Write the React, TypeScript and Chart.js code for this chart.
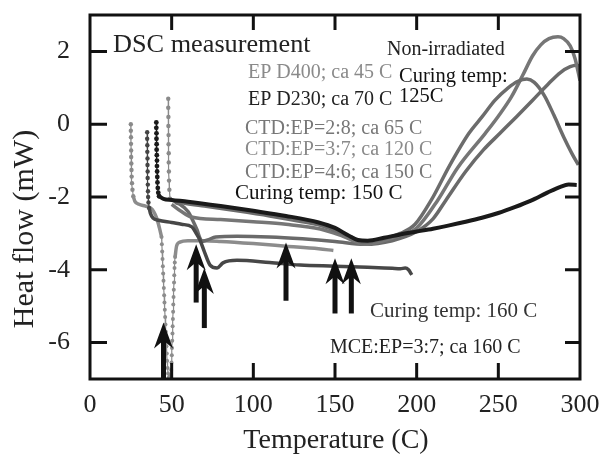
import React, { useEffect, useRef } from 'react';
import { Chart, registerables } from 'chart.js';

Chart.register(...registerables);

// ---------- axis ticks ----------
const xTicks = [0, 50, 100, 150, 200, 250, 300];
const yTicks = [-6, -4, -2, 0, 2];

// ---------- black curve (EP D230 / curing 150 C) ----------
const cDotT = [40.6, 40.6, 40.7, 40.7, 40.8, 40.8, 40.9, 41.0, 41.0, 41.1, 41.2, 41.3, 41.5, 41.8, 42.3];
const cDotQ = [0.05, -0.1, -0.25, -0.4, -0.55, -0.7, -0.85, -1.0, -1.15, -1.3, -1.45, -1.6, -1.75, -1.88, -1.98];
const cLineT = [42.3, 45, 50, 60, 80, 100, 120, 140, 150, 158, 164, 170, 180, 190, 200, 210, 220, 230, 240, 250, 260, 270, 280, 288, 293, 298];
const cLineQ = [-1.98, -2.05, -2.08, -2.13, -2.25, -2.38, -2.52, -2.7, -2.85, -3.05, -3.18, -3.2, -3.12, -3.03, -2.95, -2.87, -2.78, -2.68, -2.57, -2.44, -2.28, -2.1, -1.88, -1.72, -1.66, -1.67];

// ---------- dark grey curve (ends with hook near 197 C) ----------
const bDotT = [35.0, 35.0, 35.1, 35.1, 35.2, 35.2, 35.3, 35.3, 35.4, 35.5, 35.6, 35.8, 36.2];
const bDotQ = [-0.22, -0.4, -0.58, -0.76, -0.94, -1.12, -1.3, -1.48, -1.66, -1.84, -2.0, -2.15, -2.3];
const bLineT = [36.2, 37, 38.6, 42, 50, 56, 62.4, 65, 67.3, 70, 73.5, 77.8, 81.4, 90, 110, 128.6, 150, 170, 185, 190, 193, 195, 197];
const bLineQ = [-2.3, -2.45, -2.58, -2.64, -2.7, -2.75, -2.82, -3.0, -3.18, -3.5, -3.87, -3.95, -3.81, -3.74, -3.8, -3.87, -3.9, -3.93, -3.96, -3.97, -3.95, -4.0, -4.14];

// ---------- light grey curve with deep V (EP D400) ----------
const aDotT = [25.0, 25.0, 25.1, 25.1, 25.2, 25.2, 25.3, 25.4, 25.5, 25.7, 26.0, 26.5];
const aDotQ = [0.0, -0.18, -0.36, -0.54, -0.72, -0.9, -1.08, -1.26, -1.44, -1.62, -1.8, -1.98];
const aLine1T = [26.5, 27.5, 30, 34, 37, 39, 41, 42.5, 43.8];
const aLine1Q = [-1.98, -2.12, -2.2, -2.25, -2.3, -2.4, -2.6, -2.85, -3.1];
const aVT = [43.8, 44.0, 44.2, 44.4, 44.6, 44.8, 45.0, 45.2, 45.4, 45.6, 45.8, 46.0, 46.2, 46.4, 46.6, 46.8, 47.0, 47.2, 47.5, 47.8, 48.3,
  48.9, 49.4, 49.7, 49.9, 50.1, 50.2, 50.35, 50.5, 50.6, 50.75, 50.9, 51.0, 51.15, 51.3, 51.45, 51.6, 51.75, 51.9, 52.1];
const aVQ = [-3.1, -3.3, -3.5, -3.7, -3.9, -4.1, -4.3, -4.5, -4.7, -4.9, -5.1, -5.3, -5.5, -5.7, -5.9, -6.1, -6.3, -6.5, -6.7, -6.85, -6.95,
  -6.98, -6.9, -6.75, -6.55, -6.35, -6.15, -5.95, -5.75, -5.55, -5.35, -5.15, -4.95, -4.75, -4.55, -4.35, -4.15, -3.95, -3.8, -3.65];
const aLine2T = [52.1, 53, 55, 60, 70, 80, 100, 120, 140, 149];
const aLine2Q = [-3.65, -3.35, -3.24, -3.2, -3.2, -3.22, -3.28, -3.35, -3.42, -3.47];

// ---------- grey curve with peak near 267 C ----------
const dDotT = [47.9, 47.9, 48.0, 48.0, 48.1, 48.1, 48.2, 48.2, 48.3, 48.4, 48.6, 49.0];
const dDotQ = [0.7, 0.45, 0.2, -0.05, -0.3, -0.55, -0.8, -1.05, -1.3, -1.55, -1.8, -2.05];
const p1T = [49, 52, 58, 70, 90, 110, 130, 141, 150, 160, 167, 180, 190, 199, 209, 220, 232, 240, 248, 256, 262, 267.5, 272, 278, 284, 290, 295, 299];
const p1Q = [-2.05, -2.12, -2.17, -2.25, -2.38, -2.52, -2.68, -2.78, -2.92, -3.1, -3.25, -3.15, -3.0, -2.75, -2.08, -1.15, -0.25, 0.2, 0.66, 1.0, 1.18, 1.24, 1.15, 0.8, 0.25, -0.35, -0.8, -1.12];

// ---------- grey curve with peak near 286 C ----------
const p2T = [50, 56, 62, 80, 100, 120, 141, 155, 168, 180, 190, 200, 213, 225, 242, 250, 258, 265, 271, 276, 281, 286.5, 290, 294, 297, 300];
const p2Q = [-2.2, -2.4, -2.55, -2.62, -2.68, -2.75, -2.88, -3.08, -3.3, -3.2, -3.05, -2.85, -2.08, -1.2, -0.25, 0.22, 0.75, 1.35, 1.88, 2.18, 2.35, 2.4, 2.35, 2.15, 1.8, 1.2];

// ---------- grey curve with step near 65 C, peak near 298 C ----------
const p3T = [52, 55, 60, 63, 65.5, 67.5, 69, 72, 77, 90, 110, 130, 150, 168, 185, 200, 210, 218, 230, 241, 251, 261, 271, 280, 288, 294, 298, 300];
const p3Q = [-2.15, -2.2, -2.4, -2.65, -2.9, -3.15, -3.22, -3.18, -3.1, -3.08, -3.1, -3.15, -3.22, -3.3, -3.2, -2.95, -2.6, -2.08, -1.3, -0.7, -0.25, 0.2, 0.66, 1.08, 1.42, 1.58, 1.62, 1.6];

// ---------- arrows (temperature, from, to) ----------
const arrowT = [45, 65, 70, 120, 150, 160];
const arrowFrom = [-7, -4.9, -5.6, -4.85, -5.2, -5.2];
const arrowTo = [-5.45, -3.3, -3.95, -3.25, -3.68, -3.68];

// ---------- annotation texts ----------
const noteText = [
  'DSC measurement',
  'Non-irradiated',
  'Curing temp:',
  '125C',
  'EP D400; ca 45 C',
  'EP D230; ca 70 C',
  'CTD:EP=2:8; ca 65 C',
  'CTD:EP=3:7; ca 120 C',
  'CTD:EP=4:6; ca 150 C',
  'Curing temp: 150 C',
  'Curing temp: 160 C',
  'MCE:EP=3:7; ca 160 C',
];
const noteT = [14.1, 181.8, 189.2, 189.2, 96.7, 96.7, 94.9, 94.9, 94.9, 88.8, 171.4, 146.9];
const noteQ = [1.98, 1.9, 1.16, 0.61, 1.26, 0.53, -0.27, -0.85, -1.48, -2.05, -5.3, -6.29];
const noteSize = [25, 20, 20.5, 20.5, 20, 20, 20, 20, 20, 21, 21, 20];
const noteColor = ['#222', '#222', '#111', '#111', '#8a8a8a', '#222', '#777', '#8a8a8a', '#777', '#111', '#333', '#222'];
const noteScale = [1.05, 1, 1, 1, 1, 1, 1, 1, 1, 1, 1, 1];

const FONT = '"Liberation Serif", "Times New Roman", serif';

const pts = (T: number[], Q: number[]) => T.map((t, i) => ({ x: t, y: Q[i] }));

const lineDs = (T: number[], Q: number[], color: string, width = 3.5) => ({
  data: pts(T, Q),
  borderColor: color,
  backgroundColor: color,
  borderWidth: width,
  pointRadius: 0,
  cubicInterpolationMode: 'monotone' as const,
  fill: false,
});

const dotDs = (T: number[], Q: number[], color: string, r = 2.2) => ({
  data: pts(T, Q),
  borderColor: color,
  backgroundColor: color,
  borderWidth: 1.2,
  pointRadius: r,
  pointBorderWidth: 0,
  pointBackgroundColor: color,
  tension: 0,
  fill: false,
});

const decorPlugin = {
  id: 'decor',
  afterDatasetsDraw(chart: any) {
    const { ctx, chartArea: a, scales } = chart;
    const xs = scales.x;
    const ys = scales.y;
    ctx.save();
    // frame
    ctx.strokeStyle = '#111';
    ctx.lineWidth = 3;
    ctx.strokeRect(a.left, a.top, a.right - a.left, a.bottom - a.top);
    // inward ticks
    ctx.lineWidth = 3;
    xTicks.forEach((v) => {
      if (v <= xs.min || v >= xs.max) return;
      const px = xs.getPixelForValue(v);
      ctx.beginPath();
      ctx.moveTo(px, a.bottom);
      ctx.lineTo(px, a.bottom - 16);
      ctx.moveTo(px, a.top);
      ctx.lineTo(px, a.top + 15);
      ctx.stroke();
    });
    yTicks.forEach((v) => {
      const py = ys.getPixelForValue(v);
      ctx.beginPath();
      ctx.moveTo(a.left, py);
      ctx.lineTo(a.left + 17, py);
      ctx.moveTo(a.right, py);
      ctx.lineTo(a.right - 15, py);
      ctx.stroke();
    });
    // arrows
    ctx.fillStyle = '#111';
    arrowT.forEach((t, i) => {
      const px = xs.getPixelForValue(t);
      const y0 = ys.getPixelForValue(arrowFrom[i]);
      const y1 = ys.getPixelForValue(arrowTo[i]);
      ctx.fillRect(px - 2.5, y1 + 14, 5, y0 - y1 - 14);
      ctx.beginPath();
      ctx.moveTo(px, y1);
      ctx.lineTo(px + 9.5, y1 + 26);
      ctx.lineTo(px, y1 + 18);
      ctx.lineTo(px - 9.5, y1 + 26);
      ctx.closePath();
      ctx.fill();
    });
    // notes
    ctx.textAlign = 'left';
    ctx.textBaseline = 'alphabetic';
    noteText.forEach((s, i) => {
      const px = xs.getPixelForValue(noteT[i]);
      const py = ys.getPixelForValue(noteQ[i]);
      ctx.save();
      ctx.translate(px, py);
      ctx.scale(noteScale[i], 1);
      ctx.font = `${noteSize[i]}px ${FONT}`;
      ctx.fillStyle = noteColor[i];
      ctx.fillText(s, 0, 0);
      ctx.restore();
    });
    // axis titles
    ctx.fillStyle = '#222';
    ctx.font = `28px ${FONT}`;
    ctx.textAlign = 'center';
    ctx.fillText('Temperature (C)', (a.left + a.right) / 2 + 1, 448);
    ctx.save();
    ctx.translate(33, 229);
    ctx.rotate(-Math.PI / 2);
    ctx.font = `30px ${FONT}`;
    ctx.fillText('Heat flow (mW)', 0, 0);
    ctx.restore();
    ctx.restore();
  },
};

export default function App() {
  const ref = useRef<HTMLCanvasElement | null>(null);
  useEffect(() => {
    if (!ref.current) return;
    const grey1 = '#6c6c6c';
    const grey2 = '#767676';
    const grey3 = '#6a6a6a';
    const chart = new Chart(ref.current, {
      type: 'line',
      data: {
        datasets: [
          lineDs(cLineT, cLineQ, '#1a1a1a', 4),
          dotDs(cDotT, cDotQ, '#1a1a1a', 2.4),
          lineDs(bLineT, bLineQ, '#474747', 3.5),
          dotDs(bDotT, bDotQ, '#444', 2.2),
          lineDs(p1T, p1Q, grey1, 3.5),
          lineDs(p2T, p2Q, grey2, 3.5),
          lineDs(p3T, p3Q, grey3, 3.5),
          dotDs(dDotT, dDotQ, '#8a8a8a', 2.2),
          lineDs(aLine1T, aLine1Q, '#8c8c8c', 3.5),
          lineDs(aLine2T, aLine2Q, '#8c8c8c', 3.5),
          dotDs(aVT, aVQ, '#8c8c8c', 2.0),
          dotDs(aDotT, aDotQ, '#8a8a8a', 2.2),
        ] as any,
      },
      options: {
        responsive: false,
        animation: false,
        events: [],
        layout: { padding: { left: 0, top: 15, right: 24, bottom: 0 } },
        plugins: { legend: { display: false }, tooltip: { enabled: false } },
        scales: {
          x: {
            type: 'linear',
            min: 0,
            max: 300,
            afterBuildTicks: (s: any) => {
              s.ticks = xTicks.map((v) => ({ value: v }));
            },
            afterFit: (s: any) => {
              s.height = 76;
              s.paddingLeft = 0;
              s.paddingRight = 0;
              s.paddingTop = 0;
              s.paddingBottom = 0;
            },
            ticks: {
              font: { family: FONT, size: 26 },
              color: '#222',
              padding: 3,
              maxRotation: 0,
              autoSkip: false,
              callback: (v: any) => String(v),
            },
            grid: { display: false },
            border: { display: false },
          },
          y: {
            type: 'linear',
            min: -7,
            max: 3,
            afterBuildTicks: (s: any) => {
              s.ticks = yTicks.map((v) => ({ value: v }));
            },
            afterFit: (s: any) => {
              s.width = 90;
              s.paddingLeft = 0;
              s.paddingRight = 0;
              s.paddingTop = 0;
              s.paddingBottom = 0;
            },
            ticks: {
              font: { family: FONT, size: 26 },
              color: '#222',
              padding: 12,
              autoSkip: false,
              callback: (v: any) => String(v),
            },
            grid: { display: false },
            border: { display: false },
          },
        },
      } as any,
      plugins: [decorPlugin],
    });
    return () => chart.destroy();
  }, []);
  return (
    <div style={{ position: 'fixed', left: 0, top: 0, width: 604, height: 455, background: '#fff' }}>
      <canvas ref={ref} width={604} height={455} style={{ display: 'block', width: 604, height: 455 }} />
    </div>
  );
}
